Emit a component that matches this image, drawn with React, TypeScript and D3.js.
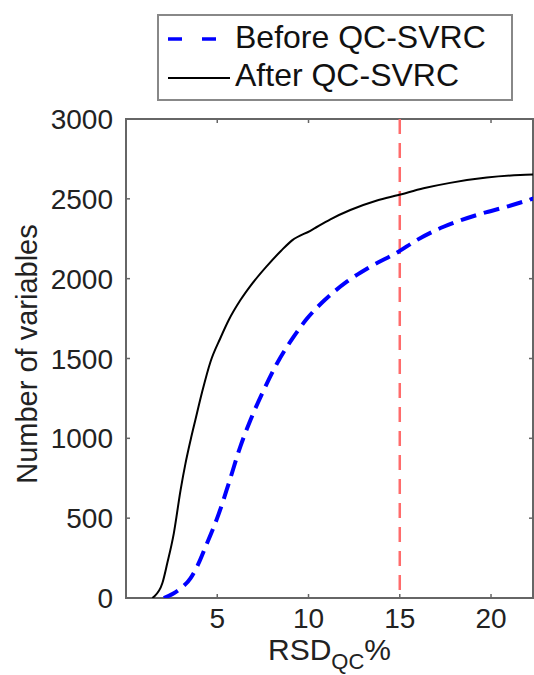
import React from "react";
import * as d3 from "d3";

// RSD_QC % vs cumulative number of variables
const afterX = [1.44, 1.53, 1.99, 2.26, 2.62, 2.99, 3.26, 3.54, 3.8, 4.17, 4.63, 5.18, 5.63, 6.27, 6.82, 7.73, 8.5, 9.1, 10.1, 11.2, 12.29, 13.75, 14.93, 16.3, 17.76, 19.77, 21.6, 22.4];
const afterY = [0, 8, 92, 217, 405, 676, 843, 990, 1115, 1290, 1480, 1630, 1741, 1866, 1955, 2080, 2175, 2240, 2300, 2372, 2430, 2490, 2524, 2566, 2600, 2633, 2649, 2652];

const beforeX = [2.07, 2.62, 3.0, 3.54, 3.95, 4.36, 5.09, 5.63, 6.27, 6.82, 7.55, 8.28, 9.19, 9.92, 10.83, 12.1, 13.39, 14.93, 15.94, 17.4, 18.4, 19.4, 20.87, 22.4];
const beforeY = [0, 30, 60, 125, 210, 321, 530, 718, 950, 1115, 1303, 1470, 1637, 1750, 1860, 1981, 2075, 2169, 2242, 2325, 2368, 2405, 2451, 2505];

const xTicks = [5, 10, 15, 20];
const yTicks = [0, 500, 1000, 1500, 2000, 2500, 3000];
const threshold = 15;
const legendLabels = ["Before QC-SVRC", "After QC-SVRC"];

const W = 534;
const H = 675;
const left = 126;
const right = 533;
const top = 119;
const bottom = 598;
const font = "'Liberation Sans', Arial, Helvetica, sans-serif";

export default function App() {
  const x = d3.scaleLinear().domain([0, 22.3]).range([left, right]);
  const y = d3.scaleLinear().domain([0, 3000]).range([bottom, top]);

  const lineGen = d3
    .line<[number, number]>()
    .x((d) => x(d[0]))
    .y((d) => y(d[1]))
    .curve(d3.curveMonotoneX);

  const afterPts = afterX.map((v, i) => [v, afterY[i]] as [number, number]);
  const beforePts = beforeX.map((v, i) => [v, beforeY[i]] as [number, number]);

  const axisColor = "#666";

  return (
    <svg
      width={W}
      height={H}
      style={{ position: "absolute", left: 0, top: 0, background: "#fff" }}
      fontFamily={font}
    >
      <defs>
        <clipPath id="plotArea">
          <rect x={left} y={top} width={right - left} height={bottom - top} />
        </clipPath>
      </defs>

      {/* frame */}
      <rect x={left} y={top} width={right - left} height={bottom - top} fill="none" stroke={axisColor} strokeWidth={2} />

      {/* ticks on all four sides, pointing in */}
      {xTicks.map((t) => (
        <g key={"xt" + t}>
          <line x1={x(t)} x2={x(t)} y1={bottom} y2={bottom - 4} stroke={axisColor} strokeWidth={1.5} />
          <line x1={x(t)} x2={x(t)} y1={top} y2={top + 4} stroke={axisColor} strokeWidth={1.5} />
          <text x={x(t)} y={628} textAnchor="middle" fontSize={28} fill="#222">
            {t}
          </text>
        </g>
      ))}
      {yTicks.map((t) => (
        <g key={"yt" + t}>
          <line x1={left} x2={left + 4} y1={y(t)} y2={y(t)} stroke={axisColor} strokeWidth={1.5} />
          <line x1={right} x2={right - 4} y1={y(t)} y2={y(t)} stroke={axisColor} strokeWidth={1.5} />
          <text x={113} y={y(t)} dy="0.36em" textAnchor="end" fontSize={28} fill="#222">
            {t}
          </text>
        </g>
      ))}

      <g clipPath="url(#plotArea)">
        <line
          x1={x(threshold)}
          x2={x(threshold)}
          y1={top}
          y2={bottom}
          stroke="#ff6b6b"
          strokeWidth={2.5}
          strokeDasharray="15 9"
        />
        <path d={lineGen(beforePts) ?? ""} fill="none" stroke="#0000ff" strokeWidth={4} strokeDasharray="16 8" />
        <path d={lineGen(afterPts) ?? ""} fill="none" stroke="#000" strokeWidth={2} />
      </g>

      {/* axis titles */}
      <text
        transform={`translate(37, 354) rotate(-90)`}
        textAnchor="middle"
        fontSize={29}
        fill="#222"
      >
        Number of variables
      </text>
      <text x={268} y={660} fontSize={30} fill="#222">
        RSD
        <tspan fontSize={22} dy={9}>QC</tspan>
        <tspan fontSize={30} dy={-9}>%</tspan>
      </text>

      {/* legend */}
      <rect x={158} y={15} width={354} height={85} fill="#fff" stroke="#888" strokeWidth={2} />
      <line x1={168} x2={218} y1={39} y2={39} stroke="#0000ff" strokeWidth={3.5} strokeDasharray="14 20" />
      <text x={235} y={48} fontSize={32} fill="#111">
        {legendLabels[0]}
      </text>
      <line x1={168} x2={230} y1={78} y2={78} stroke="#000" strokeWidth={2} />
      <text x={235} y={86} fontSize={32} fill="#111">
        {legendLabels[1]}
      </text>
    </svg>
  );
}
